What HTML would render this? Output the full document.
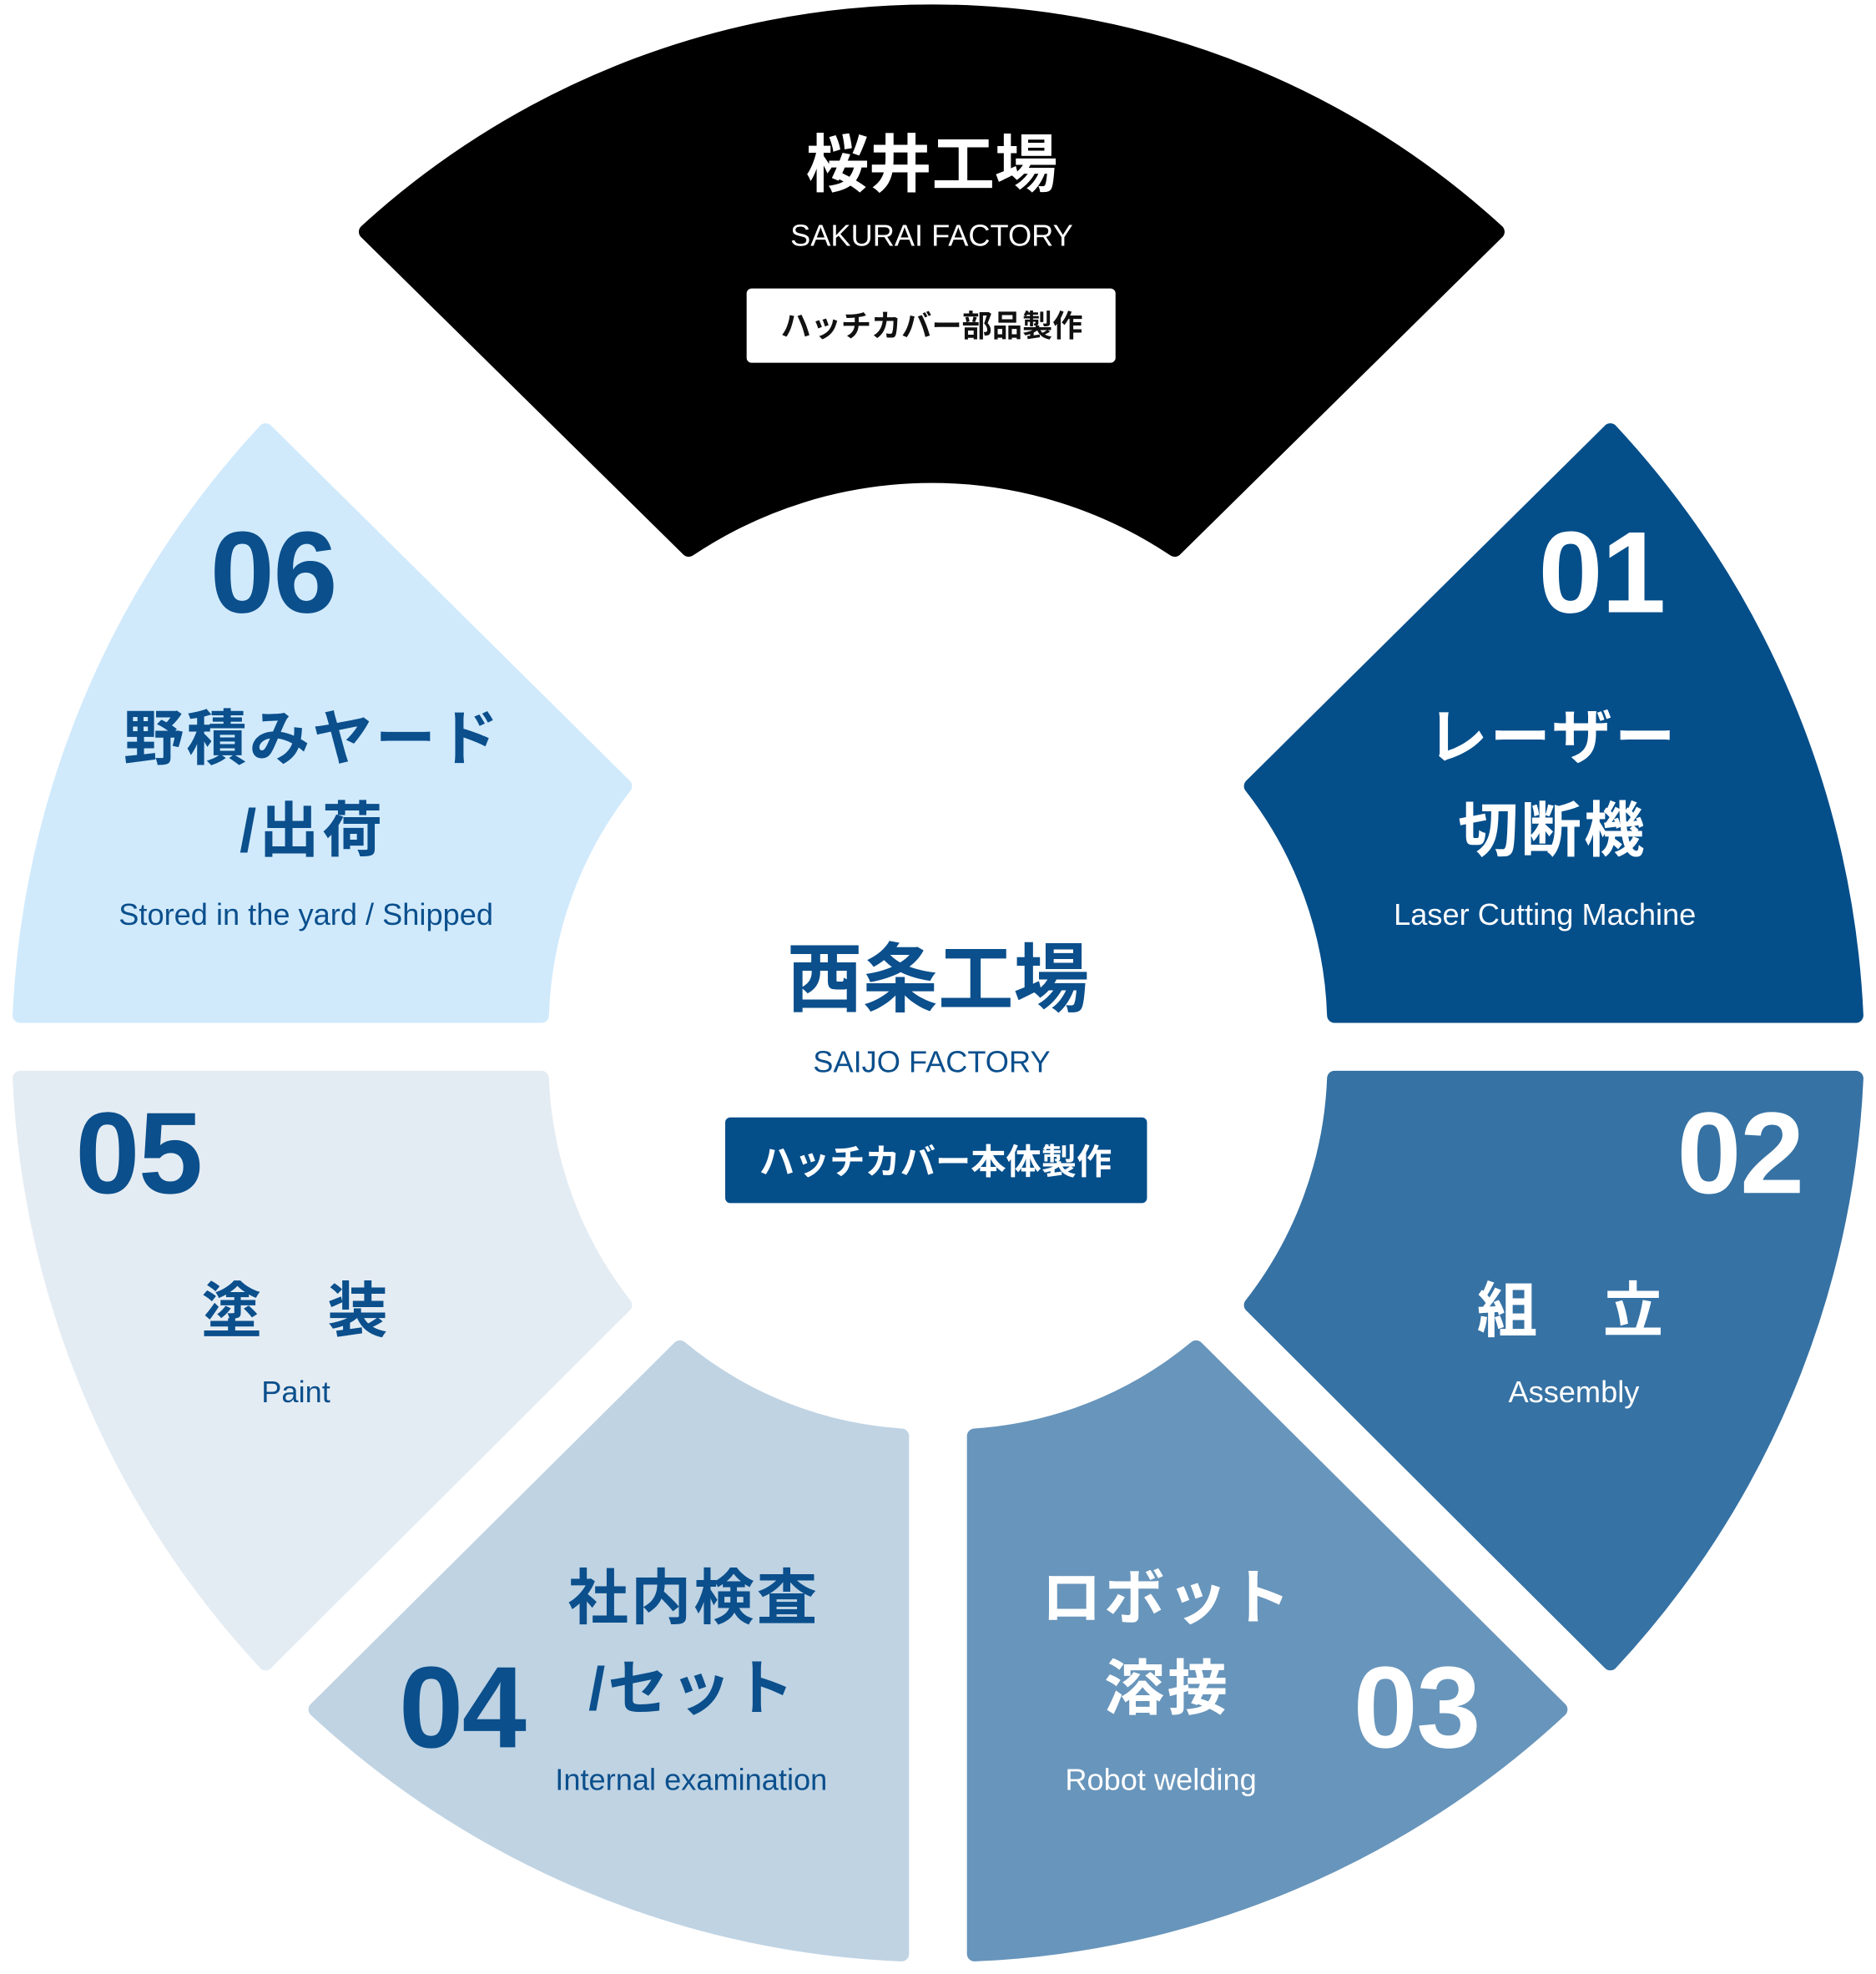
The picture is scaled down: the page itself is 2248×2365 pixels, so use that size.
<!DOCTYPE html>
<html><head><meta charset="utf-8"><style>
html,body{margin:0;padding:0;background:#fff;}
svg{display:block;}
text{font-family:"Liberation Sans","Noto Sans CJK JP",sans-serif;text-anchor:middle;}
.b{font-weight:bold;}
.j{letter-spacing:2px;}
.n{font-weight:bold;font-size:92px;letter-spacing:-1px;}
</style></head><body>
<svg width="2248" height="2365" viewBox="0 0 1490 1567" preserveAspectRatio="none" xmlns="http://www.w3.org/2000/svg">
<g stroke-linejoin="round" stroke-width="12">
<path fill="#000" stroke="#000" d="M291,184 A665,665 0 0 1 1189,184 L933,436 A347,347 0 0 0 547,436 Z"/>
<path fill="#d0eafc" stroke="#d0eafc" d="M211,342 L496,624 A312,312 0 0 0 430,806 L16,806 A729,729 0 0 1 211,342 Z"/>
<path fill="#044e8a" stroke="#044e8a" d="M1279,342 L994,624 A312,312 0 0 1 1060,806 L1474,806 A729,729 0 0 0 1279,342 Z"/>
<path fill="#e4ecf3" stroke="#e4ecf3" d="M16,856 L430,856 A312,312 0 0 0 496,1036 L211,1320 A729,729 0 0 1 16,856 Z"/>
<path fill="#3672a4" stroke="#3672a4" d="M1474,856 L1060,856 A312,312 0 0 1 994,1036 L1279,1320 A729,729 0 0 0 1474,856 Z"/>
<path fill="#bfd3e3" stroke="#bfd3e3" d="M540,1070 A308,308 0 0 0 716,1140 L716,1551 A727,727 0 0 1 251,1357 Z"/>
<path fill="#6895bb" stroke="#6895bb" d="M950,1070 A308,308 0 0 1 774,1140 L774,1551 A727,727 0 0 0 1239,1357 Z"/>
</g>
<text x="740" y="148" class="b" font-size="50" fill="#fff">桜井工場</text>
<text x="740" y="195" font-size="24" fill="#fff">SAKURAI FACTORY</text>
<rect x="593" y="229" width="293" height="59" rx="4" fill="#fff"/>
<text x="740" y="267" class="b" font-size="24" fill="#111">ハッチカバー部品製作</text>
<text x="745" y="798" class="b" font-size="60" fill="#0b4f8c">西条工場</text>
<text x="740" y="851" font-size="24" fill="#0b4f8c">SAIJO FACTORY</text>
<rect x="576" y="887" width="335" height="68" rx="4" fill="#044e8a"/>
<text x="743" y="932" class="b" font-size="28" fill="#fff">ハッチカバー本体製作</text>

<text x="217" y="486" class="n" fill="#0b4f8c">06</text>
<text x="248" y="603" class="b j" font-size="48" fill="#0b4f8c">野積みヤード</text>
<text x="248" y="676" class="b j" font-size="48" fill="#0b4f8c">/出荷</text>
<text x="243" y="734" font-size="24" fill="#0b4f8c">Stored in the yard / Shipped</text>

<text x="1272" y="486" class="n" fill="#fff">01</text>
<text x="1233" y="602" class="b j" font-size="48" fill="#fff">レーザー</text>
<text x="1233" y="676" class="b j" font-size="48" fill="#fff">切断機</text>
<text x="1227" y="734" font-size="24" fill="#fff">Laser Cutting Machine</text>

<text x="110" y="947" class="n" fill="#0b4f8c">05</text>
<text x="235" y="1057" class="b j" font-size="48" fill="#0b4f8c">塗　装</text>
<text x="235" y="1113" font-size="24" fill="#0b4f8c">Paint</text>

<text x="1382" y="947" class="n" fill="#fff">02</text>
<text x="1248" y="1057" class="b j" font-size="48" fill="#fff">組　立</text>
<text x="1250" y="1113" font-size="24" fill="#fff">Assembly</text>

<text x="367" y="1387" class="n" fill="#0b4f8c">04</text>
<text x="551" y="1285" class="b j" font-size="48" fill="#0b4f8c">社内検査</text>
<text x="550" y="1357" class="b j" font-size="48" fill="#0b4f8c">/セット</text>
<text x="549" y="1421" font-size="24" fill="#0b4f8c">Internal examination</text>

<text x="1125" y="1387" class="n" fill="#fff">03</text>
<text x="927" y="1285" class="b j" font-size="48" fill="#fff">ロボット</text>
<text x="927" y="1357" class="b j" font-size="48" fill="#fff">溶接</text>
<text x="922" y="1421" font-size="24" fill="#fff">Robot welding</text>
</svg>
</body></html>
